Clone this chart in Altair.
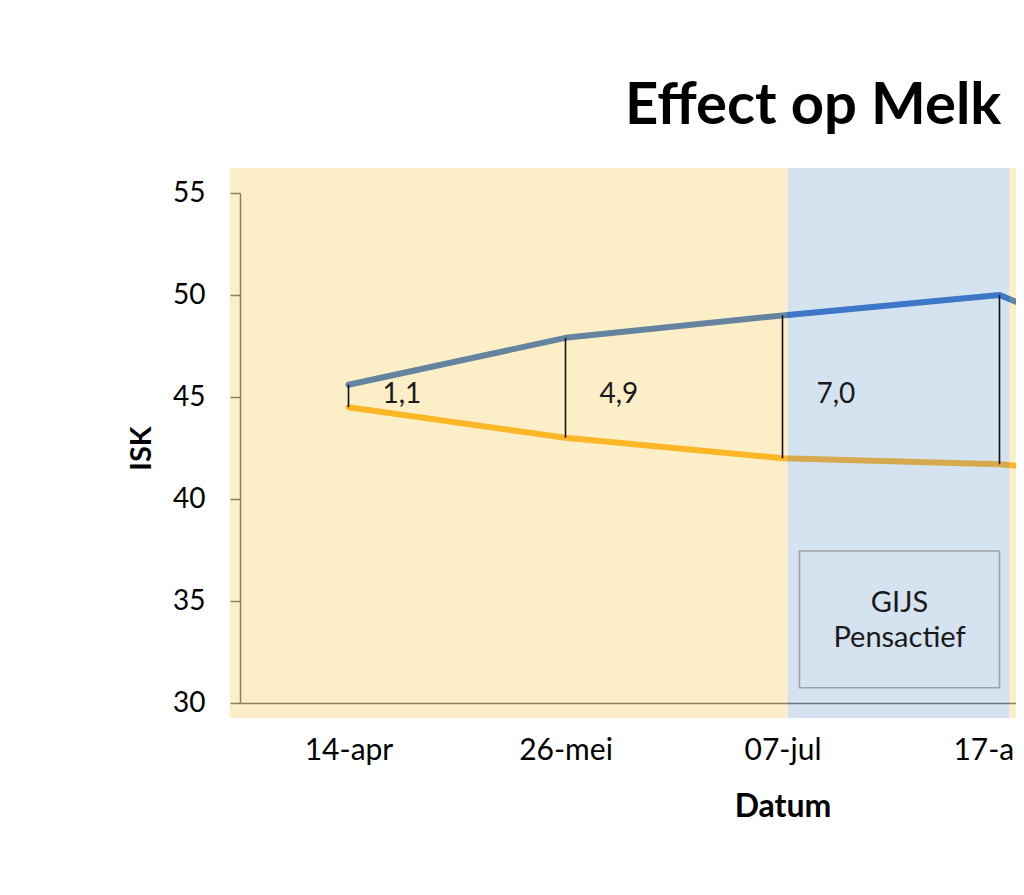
import altair as alt
import pandas as pd

# --- data ---
dates = ["14-apr", "26-mei", "07-jul", "17-aug", "28-sep"]
isk_gijs = [45.6, 47.9, 49.0, 50.0, 45.6]
isk_ref = [44.5, 43.0, 42.0, 41.7, 40.8]
y_ticks = [30, 35, 40, 45, 50, 55]
band_from = "07-jul"
band_to = "17-aug"
band_text = ["GIJS", "Pensactief"]
title_text = "Effect op Melk ISK"

FONT = "Lato"
BLUE_LINE = "#165BC2"
ORANGE_LINE = "#FEA906"
YELLOW_OVL = "#F6D162"
BLUE_OVL = "#87ACD4"
OVL_OP = 0.35

STEP = 217          # pixels per category
PLOT_W = 776        # visible part of the plot (the chart is cut at the right edge)
PLOT_H = 510

idx = list(range(len(dates)))
df = pd.DataFrame({"idx": idx, "datum": dates, "gijs": isk_gijs, "ref": isk_ref})
df["diff"] = df["gijs"] - df["ref"]
df["label"] = df["diff"].map(lambda d: f"{d:.1f}".replace(".", ","))
long = df.melt(id_vars=["idx", "datum"], value_vars=["gijs", "ref"],
               var_name="serie", value_name="isk")

b0 = dates.index(band_from)
b1 = dates.index(band_to)
xmin = -0.5
xmax = xmin + PLOT_W / STEP
full_center = (len(dates) * STEP) / 2  # centre of the complete (uncut) x axis

label_expr = "[" + ",".join(f"'{d}'" for d in dates) + "][datum.value]"

x_enc = alt.X("idx:Q",
              scale=alt.Scale(domain=[xmin, xmax], nice=False, zero=False),
              axis=alt.Axis(values=idx, labelExpr=label_expr, ticks=False, grid=False,
                            labelFlush=False, labelOverlap=False,
                            domainColor="#555555", domainWidth=1.5,
                            labelFont=FONT, labelFontSize=30, labelColor="black",
                            labelPadding=32, title="Datum", titleFont=FONT,
                            titleFontSize=32, titleFontWeight="bold", titleColor="black",
                            titlePadding=26, titleX=full_center, titleAlign="center"))
y_scale = alt.Scale(domain=[30, 55], nice=False, zero=False)
y_enc = alt.Y("isk:Q", scale=y_scale,
              axis=alt.Axis(values=y_ticks, grid=False, tickSize=10, tickColor="#555555",
                            tickWidth=1.5, domainColor="#555555", domainWidth=1.5,
                            labelFont=FONT, labelFontSize=28, labelColor="black",
                            labelPadding=25, title="ISK", titleFont=FONT,
                            titleFontSize=29, titleFontWeight="bold", titleColor="black",
                            titlePadding=16))

lines = alt.Chart(long).mark_line(strokeWidth=6, strokeCap="round", strokeJoin="round",
                                  clip=True).encode(
    x=x_enc, y=y_enc,
    color=alt.Color("serie:N", scale=alt.Scale(domain=["gijs", "ref"],
                                               range=[BLUE_LINE, ORANGE_LINE]), legend=None),
    detail="serie:N",
)

one = pd.DataFrame({"a": [0]})
left_y = alt.Chart(one).mark_rect(
    color=YELLOW_OVL, opacity=OVL_OP, xOffset=-10, x2Offset=5, yOffset=-25, y2Offset=15
).encode(x=alt.datum(xmin), x2=alt.datum(b0), y=alt.datum(55), y2=alt.datum(30))
band_b = alt.Chart(one).mark_rect(
    color=BLUE_OVL, opacity=OVL_OP, xOffset=5, x2Offset=10, yOffset=-25, y2Offset=15
).encode(x=alt.datum(b0), x2=alt.datum(b1), y=alt.datum(55), y2=alt.datum(30))
right_y = alt.Chart(one).mark_rect(
    color=YELLOW_OVL, opacity=OVL_OP, xOffset=10, yOffset=-25, y2Offset=15
).encode(x=alt.datum(b1), x2=alt.datum(xmax), y=alt.datum(55), y2=alt.datum(30))

rules = alt.Chart(df).mark_rule(color="#111111", strokeWidth=1.6, clip=True).encode(
    x="idx:Q", y="gijs:Q", y2="ref:Q")

labels = alt.Chart(df).mark_text(align="left", baseline="middle", dx=34, font=FONT,
                                 fontSize=28, color="#1a1a1a", clip=True).encode(
    x="idx:Q", y=alt.datum(45.1), text="label:N")

box = alt.Chart(one).mark_rect(
    fill="transparent", stroke="#A0A0A0", strokeWidth=1.5, xOffset=17
).encode(x=alt.datum(b0), x2=alt.datum(b1), y=alt.datum(37.45), y2=alt.datum(30.75))

box_text = alt.Chart(one).mark_text(
    text=band_text, align="center", baseline="middle", font=FONT, fontSize=29,
    lineHeight=35, color="#1a1a1a", dx=-100
).encode(x=alt.datum(b1), y=alt.datum(34.9))

chart = alt.layer(lines, left_y, band_b, right_y, rules, labels, box, box_text).properties(
    width=PLOT_W, height=PLOT_H,
    title=alt.Title(title_text, anchor="start", frame="group", dx=385, font=FONT,
                    fontSize=58, fontWeight="bold", color="black", offset=32),
    padding={"left": 232, "top": 185, "right": 0, "bottom": 180},
    autosize=alt.AutoSizeParams(type="none"),
).configure(background="white", view=alt.ViewConfig(stroke=None))

chart.save("out.html", embed_options={"renderer": "svg", "actions": False})
